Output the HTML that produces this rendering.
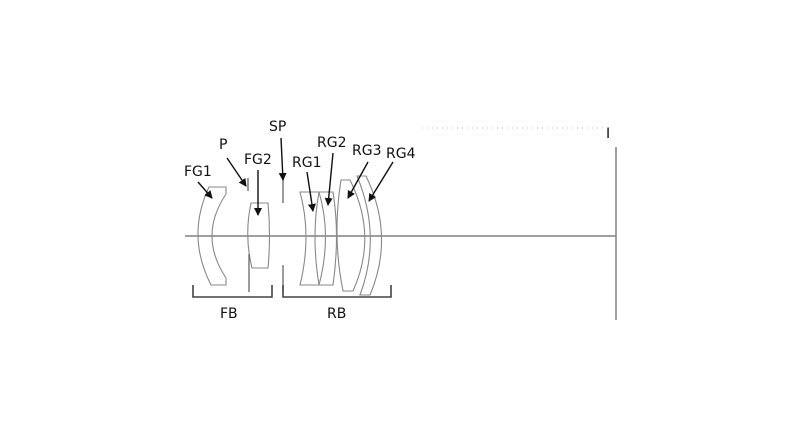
<!DOCTYPE html>
<html><head><meta charset="utf-8"><style>
html,body{margin:0;padding:0;background:#fff;}
svg{display:block}
text{font-family:"DejaVu Sans","Liberation Sans",sans-serif;font-size:14px;fill:#111}
</style></head><body>
<svg width="800" height="436" viewBox="0 0 800 436">
<defs><marker id="a" markerWidth="8" markerHeight="8" refX="7" refY="4" orient="auto" markerUnits="userSpaceOnUse"><path d="M0,0 L8,4 L0,8 Z" fill="#111"/></marker></defs>
<line x1="185" y1="236" x2="616" y2="236" stroke="#666" stroke-width="1.3"/>
<line x1="422" y1="128" x2="606" y2="128" stroke="#bbb" stroke-width="1" stroke-dasharray="1,4"/>
<line x1="616" y1="147" x2="616" y2="320" stroke="#888" stroke-width="1.6"/>
<text x="606" y="138">I</text>
<g fill="none" stroke="#888" stroke-width="1.1">
<path d="M209,187 L226,187 L226,194 Q198,236 226,278 L226,285 L211,285 Q186,236 209,187 Z"/>
<path d="M251,203 L268,203 Q271,236 268,268 L252,268 Q244,236 251,203 Z"/>
<path d="M300,192 L319,192 Q311,236 319,285 L300,285 Q312,236 300,192 Z"/>
<path d="M319,192 L333,192 Q340,236 333,285 L319,285 Q332,236 319,192 Z"/>
<path d="M341,180 L350,180 Q378,236 353,291 L343,291 Q332,236 341,180 Z"/>
<path d="M357,176 L366,176 Q395,236 370,295 L360,295 Q382,236 357,176 Z"/>
</g>
<g stroke="#666" stroke-width="1.3">
<line x1="248" y1="178" x2="248" y2="191"/><line x1="249" y1="254" x2="249" y2="292"/>
<line x1="283" y1="178" x2="283" y2="203"/><line x1="283" y1="265" x2="283" y2="291"/>
</g>
<g fill="none" stroke="#444" stroke-width="1.6">
<path d="M193,285 V297 H272 V285"/>
<path d="M283,285 V297 H391 V285"/>
</g>
<g stroke="#111" stroke-width="1.4" marker-end="url(#a)">
<line x1="198" y1="182" x2="212" y2="198"/>
<line x1="227" y1="158" x2="246" y2="186"/>
<line x1="258" y1="170" x2="258" y2="215"/>
<line x1="281" y1="138" x2="283" y2="180"/>
<line x1="307" y1="172" x2="313" y2="211"/>
<line x1="333" y1="153" x2="328" y2="205"/>
<line x1="368" y1="162" x2="348" y2="198"/>
<line x1="393" y1="162" x2="369" y2="201"/>
</g>
<text x="269" y="131">SP</text>
<text x="219" y="149">P</text>
<text x="244" y="164">FG2</text>
<text x="184" y="176">FG1</text>
<text x="292" y="167">RG1</text>
<text x="317" y="147">RG2</text>
<text x="352" y="155">RG3</text>
<text x="386" y="158">RG4</text>
<text x="220" y="318">FB</text>
<text x="327" y="318">RB</text>
</svg>
</body></html>
